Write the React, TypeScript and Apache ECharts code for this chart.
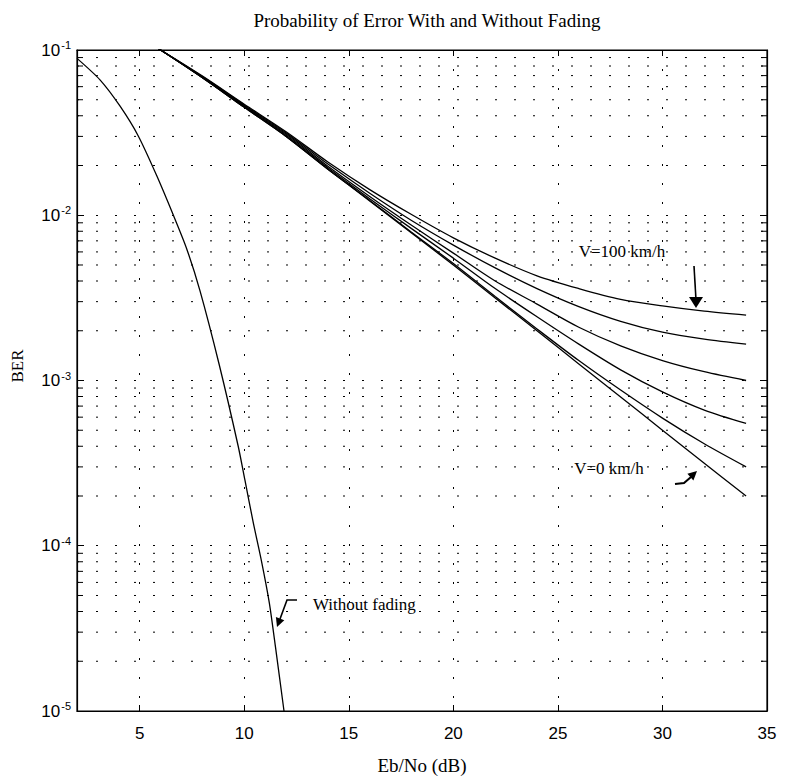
import React, { useEffect, useRef } from "react";
import * as echarts from "echarts";

// Eb/No (dB) sample points for the fading curves
const ebNoFading = [5, 6, 8, 10, 12, 14, 16, 18, 20, 22, 24, 26, 28, 30, 32, 34];
// BER, V = 0 km/h (lowest) ... V = 100 km/h (highest)
const berV0 = [0.12, 0.1, 0.068, 0.045, 0.03, 0.019, 0.0122, 0.0078, 0.005, 0.00316, 0.002, 0.00126, 0.000795, 0.0005, 0.000316, 0.0002];
const berCurve2 = [0.12, 0.1, 0.068, 0.045, 0.03, 0.019, 0.0123, 0.0079, 0.0051, 0.00322, 0.00205, 0.00132, 0.000875, 0.000592, 0.000414, 0.0003];
const berCurve3 = [0.12, 0.1, 0.068, 0.0455, 0.0305, 0.0194, 0.0126, 0.0083, 0.0055, 0.0036, 0.00243, 0.00166, 0.00116, 0.000853, 0.000662, 0.00055];
const berCurve4 = [0.12, 0.1, 0.0685, 0.046, 0.031, 0.0198, 0.013, 0.0087, 0.0059, 0.004, 0.0029, 0.0021, 0.00162, 0.00132, 0.00113, 0.001];
const berCurve5 = [0.12, 0.1, 0.069, 0.0465, 0.0315, 0.0204, 0.0136, 0.0093, 0.0066, 0.0048, 0.0036, 0.0028, 0.00228, 0.00196, 0.00178, 0.00166];
const berV100 = [0.12, 0.1, 0.0695, 0.047, 0.032, 0.021, 0.0143, 0.0101, 0.0073, 0.0055, 0.0043, 0.0036, 0.0031, 0.00283, 0.00263, 0.00249];

// Without fading curve
const ebNoNoFade = [2, 3.1, 4.06, 4.93, 5.81, 6.61, 7.24, 7.88, 8.8, 9.71, 10.03, 10.43, 10.83, 11.2, 11.5, 11.9];
const berNoFade = [0.089, 0.066, 0.0457, 0.0302, 0.0174, 0.01, 0.0063, 0.0035, 0.00125, 0.0004, 0.00025, 0.000138, 0.00008, 0.000045, 0.000024, 0.00001];

// axes
const xMin = 2;
const xMax = 35;
const yMin = 1e-5;
const yMax = 1e-1;
const decadeExponents = [-5, -4, -3, -2];
const minorMultipliers = [2, 3, 4, 5, 6, 7, 8, 9];

const TITLE = "Probability of Error With and Without Fading";

export default function App() {
  const ref = useRef<HTMLDivElement>(null);

  useEffect(() => {
    if (!ref.current) return;
    const chart = echarts.init(ref.current, undefined, { renderer: "svg" });

    const minorValues: number[] = [];
    decadeExponents.forEach((e) =>
      minorMultipliers.forEach((m) => minorValues.push(+(m * Math.pow(10, e)).toPrecision(3)))
    );

    const dotted = { color: "#000", width: 1, type: [2, 17] as any };

    const fadingSets = [
      { name: "V=0 km/h", data: berV0 },
      { name: "curve 2", data: berCurve2 },
      { name: "curve 3", data: berCurve3 },
      { name: "curve 4", data: berCurve4 },
      { name: "curve 5", data: berCurve5 },
      { name: "V=100 km/h", data: berV100 },
    ];

    const serif = "Liberation Serif";
    const sans = "Liberation Sans";

    const xAxisCommon = {
      type: "value",
      min: xMin,
      max: xMax,
      splitNumber: 6,
    };
    const yAxisCommon = {
      type: "log",
      logBase: 10,
      min: yMin,
      max: yMax,
    };

    chart.setOption({
      animation: false,
      backgroundColor: "#fff",
      title: {
        text: TITLE,
        left: 422,
        textAlign: "center",
        top: 6,
        textStyle: { fontFamily: serif, fontSize: 19, fontWeight: "normal", color: "#000" },
      },
      grid: {
        left: 77,
        right: 23,
        top: 50,
        bottom: 63,
        show: true,
        borderColor: "#000",
        borderWidth: 1.2,
        backgroundColor: "transparent",
      },
      xAxis: [
        {
          ...xAxisCommon,
          position: "bottom",
          name: "Eb/No (dB)",
          nameLocation: "middle",
          nameGap: 45,
          nameTextStyle: { fontFamily: serif, fontSize: 19, color: "#000" },
          axisLine: { show: true, lineStyle: { color: "#000", width: 1.2 } },
          axisTick: { show: true, inside: true, length: 6, lineStyle: { color: "#000" } },
          axisLabel: {
            color: "#000",
            fontFamily: sans,
            fontSize: 17,
            margin: 14,
            formatter: (v: number) => (v % 5 === 0 ? String(v) : ""),
          },
          splitLine: { show: true, lineStyle: dotted },
        },
        {
          ...xAxisCommon,
          position: "top",
          axisLine: { show: true, lineStyle: { color: "#000", width: 1.2 } },
          axisTick: { show: true, inside: true, length: 6, lineStyle: { color: "#000" } },
          axisLabel: { show: false },
          splitLine: { show: false },
        },
      ],
      yAxis: [
        {
          ...yAxisCommon,
          position: "left",
          axisLine: { show: true, lineStyle: { color: "#000", width: 1.2 } },
          axisTick: { show: true, inside: true, length: 7, lineStyle: { color: "#000" } },
          axisLabel: {
            color: "#000",
            fontFamily: sans,
            fontSize: 17,
            margin: 6,
            formatter: (v: number) => "10{s|" + Math.round(Math.log10(v)) + "}",
            rich: { s: { fontFamily: sans, fontSize: 11, color: "#000", padding: [0, 0, 10, 1] } },
          },
          splitLine: { show: true, lineStyle: dotted },
        },
        {
          ...yAxisCommon,
          position: "right",
          axisLine: { show: true, lineStyle: { color: "#000", width: 1.2 } },
          axisTick: { show: true, inside: true, length: 7, lineStyle: { color: "#000" } },
          axisLabel: { show: false },
          splitLine: { show: false },
        },
      ],
      series: [
        {
          name: "minor grid",
          type: "custom",
          xAxisIndex: 0,
          yAxisIndex: 0,
          silent: true,
          data: minorValues.map((v) => [xMin, v]),
          encode: { x: 0, y: 1 },
          renderItem: (_params: any, api: any) => {
            const v = api.value(1);
            const p1 = api.coord([xMin, v]);
            const p2 = api.coord([xMax, v]);
            return {
              type: "group",
              children: [
                {
                  type: "line",
                  shape: { x1: p1[0], y1: p1[1], x2: p2[0], y2: p2[1] },
                  style: { stroke: "#000", lineWidth: 1, lineDash: [2, 17] },
                },
                {
                  type: "line",
                  shape: { x1: p1[0], y1: p1[1], x2: p1[0] + 6, y2: p1[1] },
                  style: { stroke: "#000", lineWidth: 1 },
                },
                {
                  type: "line",
                  shape: { x1: p2[0] - 6, y1: p2[1], x2: p2[0], y2: p2[1] },
                  style: { stroke: "#000", lineWidth: 1 },
                },
              ],
            };
          },
          z: 1,
        },
        {
          name: "Without fading",
          type: "line",
          xAxisIndex: 0,
          yAxisIndex: 0,
          data: ebNoNoFade.map((x, i) => [x, berNoFade[i]]),
          showSymbol: false,
          symbol: "none",
          smooth: 0.25,
          clip: true,
          lineStyle: { color: "#000", width: 1.3 },
          z: 3,
        },
        ...fadingSets.map((s) => ({
          name: s.name,
          type: "line",
          xAxisIndex: 0,
          yAxisIndex: 0,
          data: ebNoFading.map((x, i) => [x, s.data[i]]),
          showSymbol: false,
          symbol: "none",
          smooth: 0.3,
          clip: true,
          lineStyle: { color: "#000", width: 1.3 },
          z: 3,
        })),
      ],
      graphic: [
        {
          type: "text",
          x: 17,
          y: 366,
          rotation: Math.PI / 2,
          style: {
            text: "BER",
            fontFamily: serif,
            fontSize: 17,
            fill: "#000",
            textAlign: "center",
            textVerticalAlign: "middle",
          },
        },
        {
          type: "text",
          x: 622,
          y: 251,
          style: {
            text: "V=100 km/h",
            fontFamily: serif,
            fontSize: 17,
            fill: "#000",
            textAlign: "center",
            textVerticalAlign: "middle",
          },
        },
        {
          type: "line",
          shape: { x1: 694, y1: 266, x2: 696, y2: 300 },
          style: { stroke: "#000", lineWidth: 1.6 },
        },
        {
          type: "polygon",
          shape: { points: [[689, 297], [703, 297], [696, 308]] },
          style: { fill: "#000" },
        },
        {
          type: "text",
          x: 609,
          y: 468,
          style: {
            text: "V=0 km/h",
            fontFamily: serif,
            fontSize: 17,
            fill: "#000",
            textAlign: "center",
            textVerticalAlign: "middle",
          },
        },
        {
          type: "polyline",
          shape: { points: [[675, 484], [684, 483], [691, 477]] },
          style: { stroke: "#000", lineWidth: 2, fill: "none" },
        },
        {
          type: "polygon",
          shape: { points: [[697, 471], [693.4, 480.4], [687.4, 473.8]] },
          style: { fill: "#000" },
        },
        {
          type: "text",
          x: 313,
          y: 604,
          style: {
            text: "Without fading",
            fontFamily: serif,
            fontSize: 17,
            fill: "#000",
            textAlign: "left",
            textVerticalAlign: "middle",
          },
        },
        {
          type: "polyline",
          shape: { points: [[297, 600], [287, 600], [280, 619]] },
          style: { stroke: "#000", lineWidth: 1.6, fill: "none" },
        },
        {
          type: "polygon",
          shape: { points: [[277, 627], [284.3, 620.2], [275.9, 617]] },
          style: { fill: "#000" },
        },
      ],
    });

    return () => chart.dispose();
  }, []);

  return (
    <div
      ref={ref}
      style={{ position: "absolute", left: 0, top: 0, width: 790, height: 780, background: "#fff" }}
    />
  );
}
